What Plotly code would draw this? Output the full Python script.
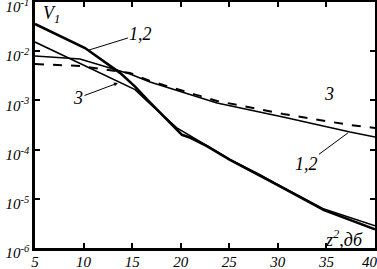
import plotly.graph_objects as go

# steep curves
x_s12 = [5, 10.15, 13.75, 15.3, 16.63, 19.1, 20.13, 21.0, 22.7, 25.07, 28.16, 29.6, 34.75, 40]
logy_s12 = [-1.447, -1.935, -2.44, -2.72, -3.0, -3.50, -3.70, -3.76, -3.93, -4.21, -4.52, -4.68, -5.23, -5.62]
x_s3 = [5, 14.78, 15.3, 16.63, 19.0, 19.6, 22.7, 25.07, 28.16, 29.6, 34.75, 40]
logy_s3 = [-1.813, -2.73, -2.78, -3.03, -3.46, -3.56, -3.92, -4.20, -4.51, -4.67, -5.21, -5.55]
# flat curves
x_f12 = [5, 9.63, 14.78, 16.84, 23.74, 30.53, 37.43, 40]
logy_f12 = [-2.098, -2.159, -2.463, -2.626, -3.053, -3.337, -3.642, -3.744]
x_f3 = [5, 9.63, 14.78, 16.84, 23.74, 30.53, 37.43, 40]
logy_f3 = [-2.260, -2.301, -2.443, -2.606, -3.012, -3.276, -3.500, -3.561]

xticks = [5, 10, 15, 20, 25, 30, 35, 40]
xticktext = ["5", "10", "15", "20", "25", "30", "35", "40\u00a0\u00a0\u00a0"]
yticks = [1e-6, 1e-5, 1e-4, 1e-3, 1e-2, 1e-1]
yticktext = ["10<sup>-6</sup>", "10<sup>-5</sup>", "10<sup>-4</sup>", "10<sup>-3</sup>", "10<sup>-2</sup>", "10<sup>-1</sup>"]

def p(v):
    return [10 ** a for a in v]

fig = go.Figure()
fig.add_trace(go.Scatter(x=x_s12, y=p(logy_s12), mode="lines", line=dict(color="black", width=2.6)))
fig.add_trace(go.Scatter(x=x_s3, y=p(logy_s3), mode="lines", line=dict(color="black", width=1.6)))
fig.add_trace(go.Scatter(x=x_f12, y=p(logy_f12), mode="lines", line=dict(color="black", width=1.6)))
fig.add_trace(go.Scatter(x=x_f3, y=p(logy_f3), mode="lines", line=dict(color="black", width=2, dash="dash")))

tf = dict(family="Liberation Serif", size=15, color="black", style="italic")
lf = dict(family="Liberation Serif", size=18, color="black", style="italic")

fig.update_layout(
    width=377, height=269, margin=dict(l=35, r=2, t=2, b=21, autoexpand=False),
    paper_bgcolor="white", plot_bgcolor="white", showlegend=False,
    xaxis=dict(range=[5, 40], tickvals=xticks, ticktext=xticktext, ticks="inside", ticklen=5, tickwidth=1.5,
               showline=True, linewidth=2.5, linecolor="black", mirror="ticks",
               showgrid=False, zeroline=False, tickfont=tf, tickcolor="black", automargin=False,
               ticklabeloverflow="allow", ticklabelstandoff=-2),
    yaxis=dict(type="log", range=[-6, -1], tickvals=yticks, ticktext=yticktext,
               ticks="inside", ticklen=5, tickwidth=1.5,
               showline=True, linewidth=2.5, linecolor="black", mirror="ticks",
               showgrid=False, zeroline=False, tickfont=tf, tickcolor="black", automargin=False,
               ticklabeloverflow="allow", ticklabelshift=5),
)

ann = [
    dict(x=10.56, y=-1.976, ax=15.9, ay=-1.65, text="1,2", showarrow=True, arrowhead=0),
    dict(x=13.54, y=-2.646, ax=9.43, ay=-2.95, text="3", showarrow=True, arrowhead=2, arrowsize=0.8),
    dict(x=37.22, y=-3.66, ax=32.9, ay=-4.29, text="1,2", showarrow=True, arrowhead=0),
]
for a in ann:
    fig.add_annotation(xref="x", yref="y", axref="x", ayref="y", font=lf,
                       arrowwidth=1, arrowcolor="black", **a)
fig.add_annotation(x=35.27, y=-2.87, xref="x", yref="y", text="3", showarrow=False, font=lf)
fig.add_annotation(x=6.65, y=-1.264, xref="x", yref="y", text="V<sub>1</sub>", showarrow=False, font=lf)
fig.add_annotation(x=36.8, y=-5.80, xref="x", yref="y", text="z<sup>2</sup>,дб", showarrow=False, font=lf)

fig.write_html("out.html", config={"displayModeBar": False},
               post_script="document.body.style.margin='0';document.body.style.overflow='hidden';")
